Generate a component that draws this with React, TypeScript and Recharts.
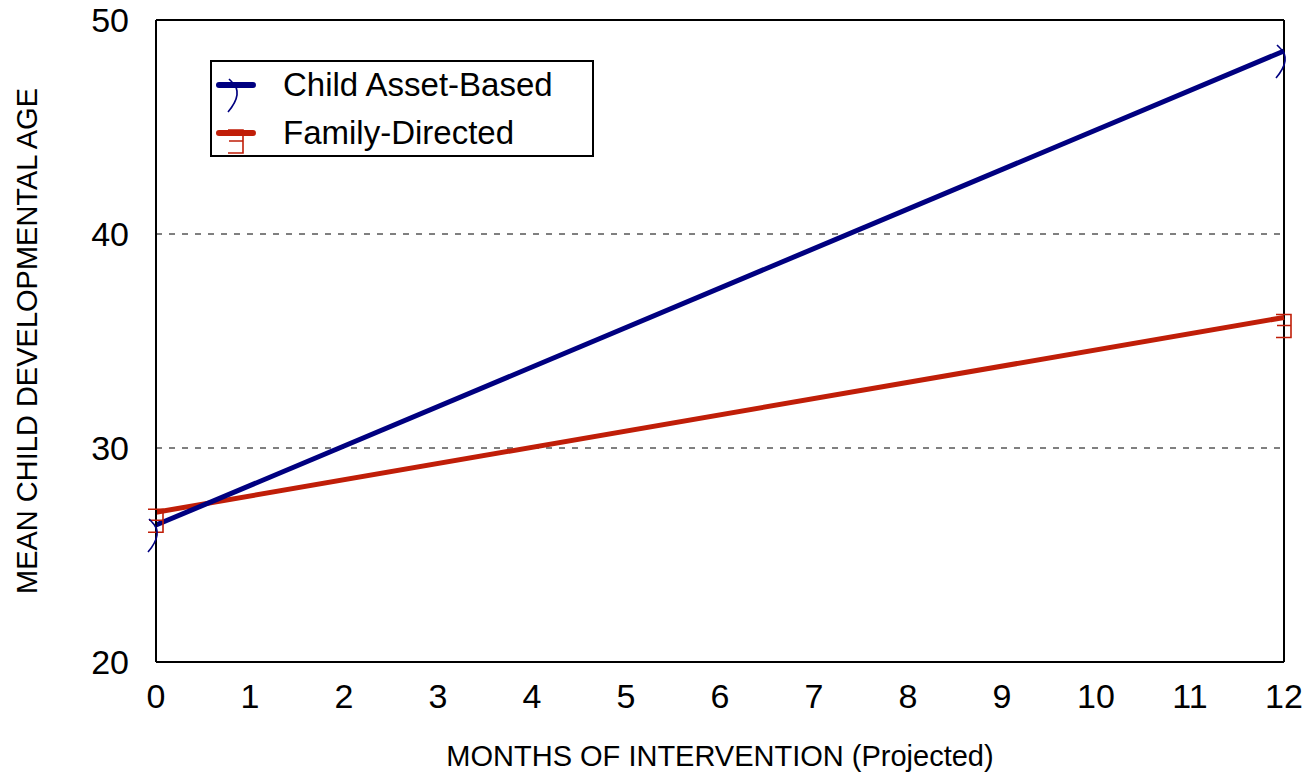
import React from "react";
import {
  CartesianGrid,
  Line,
  LineChart,
  ReferenceLine,
  XAxis,
  YAxis,
} from "recharts";

const months = [0, 12];
const childAssetBased = [26.4, 48.55];
const familyDirected = [27.0, 36.1];
const xTicks = [0, 1, 2, 3, 4, 5, 6, 7, 8, 9, 10, 11, 12];
const yTicks = [20, 30, 40, 50];

const BLUE = "#000080";
const RED = "#c01e08";
const FONT = '"Liberation Sans", Arial, sans-serif';

const data = months.map((m, i) => ({
  month: m,
  child: childAssetBased[i],
  family: familyDirected[i],
}));

// odd glyph markers from the original export
const blueGlyph = "M -7 -6 L -4 -3 Q 8 8 -8 27";
const redGlyph = "M -8 -3 H 7 V 20 H -8 M -7 8 H 7";

function GlyphDot(path: string, color: string) {
  return (props: any) => {
    const { cx, cy, index } = props;
    if (cx == null || cy == null) return <g key={index} />;
    return (
      <path
        key={index}
        d={path}
        transform={`translate(${cx},${cy})`}
        fill="none"
        stroke={color}
        strokeWidth={1.6}
      />
    );
  };
}

function LegendBox() {
  const items = [
    { name: "Child Asset-Based", color: BLUE, glyph: blueGlyph },
    { name: "Family-Directed", color: RED, glyph: redGlyph },
  ];
  return (
    <div
      style={{
        position: "absolute",
        left: 210,
        top: 60,
        width: 380,
        height: 93,
        border: "2px solid #000",
        background: "#fff",
        fontFamily: FONT,
      }}
    >
      {items.map((it, i) => (
        <div
          key={it.name}
          style={{
            position: "absolute",
            left: 0,
            top: 6 + i * 48,
            height: 44,
            display: "flex",
            alignItems: "flex-start",
          }}
        >
          <svg width={60} height={44} style={{ overflow: "visible" }}>
            <line
              x1={7}
              x2={41}
              y1={17}
              y2={17}
              stroke={it.color}
              strokeWidth={6}
              strokeLinecap="round"
            />
            <path
              d={it.glyph}
              transform="translate(24,17)"
              fill="none"
              stroke={it.color}
              strokeWidth={1.6}
            />
          </svg>
          <span
            style={{
              fontSize: 33,
              lineHeight: "34px",
              marginLeft: 11,
              color: "#000",
            }}
          >
            {it.name}
          </span>
        </div>
      ))}
    </div>
  );
}

export default function App() {
  return (
    <div
      style={{
        position: "fixed",
        left: 0,
        top: 0,
        width: 1308,
        height: 772,
        background: "#fff",
      }}
    >
      <LineChart
        width={1308}
        height={772}
        data={data}
        margin={{ top: 20, right: 24, bottom: 0, left: 0 }}
        style={{ fontFamily: FONT }}
      >
        <CartesianGrid
          vertical={false}
          stroke="#000"
          strokeWidth={1}
          strokeDasharray="6 7"
        />
        <XAxis
          dataKey="month"
          type="number"
          domain={[0, 12]}
          ticks={xTicks}
          interval={0}
          height={110}
          tickLine={false}
          tickSize={0}
          tickMargin={22}
          axisLine={{ stroke: "#000", strokeWidth: 2 }}
          tick={{ fill: "#000", fontSize: 34 }}
          label={{
            value: "MONTHS OF INTERVENTION (Projected)",
            position: "insideBottom",
            offset: 6,
            fill: "#000",
            fontSize: 29,
          }}
        />
        <YAxis
          type="number"
          domain={[20, 50]}
          ticks={yTicks}
          width={156}
          tickLine={false}
          tickSize={0}
          tickMargin={27}
          axisLine={{ stroke: "#000", strokeWidth: 2 }}
          tick={{ fill: "#000", fontSize: 34 }}
          label={{
            value: "MEAN CHILD DEVELOPMENTAL AGE",
            angle: -90,
            position: "insideLeft",
            offset: 27,
            fill: "#000",
            fontSize: 29,
            style: { textAnchor: "middle" },
          }}
        />
        <ReferenceLine y={50} stroke="#000" strokeWidth={2} />
        <ReferenceLine x={12} stroke="#000" strokeWidth={2} />
        <Line
          dataKey="family"
          name="Family-Directed"
          stroke={RED}
          strokeWidth={5}
          dot={GlyphDot(redGlyph, RED)}
          activeDot={false}
          isAnimationActive={false}
        />
        <Line
          dataKey="child"
          name="Child Asset-Based"
          stroke={BLUE}
          strokeWidth={5}
          dot={GlyphDot(blueGlyph, BLUE)}
          activeDot={false}
          isAnimationActive={false}
        />
      </LineChart>
      <LegendBox />
    </div>
  );
}
